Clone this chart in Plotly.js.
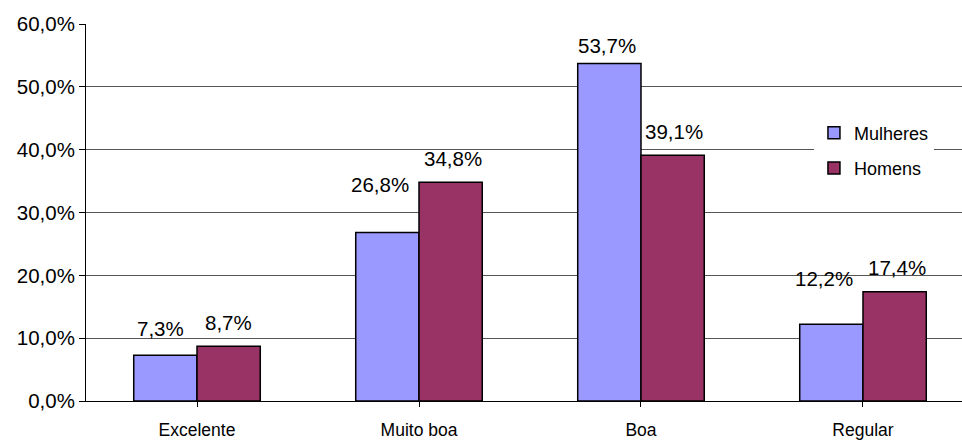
<!DOCTYPE html>
<html>
<head>
<meta charset="utf-8">
<script src="https://cdn.plot.ly/plotly-3.0.1.min.js"></script>
<style>
  html, body { margin: 0; padding: 0; background: #fff; }
  #chart { width: 962px; height: 441px; }
</style>
</head>
<body>
<div id="chart"></div>
<script>
// Self-rated quality, share of respondents by sex (%)
const categories = ['Excelente', 'Muito boa', 'Boa', 'Regular'];
const mulheres = [7.3, 26.8, 53.7, 12.2];
const homens = [8.7, 34.8, 39.1, 17.4];
const seriesNames = ['Mulheres', 'Homens'];
const yTicks = [0, 10, 20, 30, 40, 50, 60];

// Label nudges (px) so value labels sit clear of each other
const labelLift = [[27, 24], [48, 24], [18, 24], [46, 24]];
const labelNudge = [[-5, 0], [-7, 2], [-2, 1], [-7, 2]];

const FONT = 'Liberation Sans, Arial, sans-serif';
const bargap = 0.43;
const barW = (1 - bargap) / 2;

const fmt = v => v.toFixed(1).replace('.', ',') + '%';

const traces = [
  {
    type: 'bar', name: seriesNames[0], legendgroup: 'm',
    x: categories.map((_, i) => i), y: mulheres,
    marker: { color: '#9999FF', line: { color: '#000', width: 1.5 } },
    hoverinfo: 'skip'
  },
  {
    type: 'bar', name: seriesNames[1], legendgroup: 'h',
    x: categories.map((_, i) => i), y: homens,
    marker: { color: '#993366', line: { color: '#000', width: 1.5 } },
    hoverinfo: 'skip'
  }
];

const annotations = [];
[mulheres, homens].forEach((vals, s) => {
  vals.forEach((v, i) => {
    annotations.push({
      x: i + (s === 0 ? -barW / 2 : barW / 2), y: v,
      xref: 'x', yref: 'y',
      text: fmt(v), showarrow: false,
      xanchor: 'center', yanchor: 'middle',
      yshift: labelLift[i][s], xshift: labelNudge[i][s],
      font: { family: FONT, size: 20.5, color: '#000' }
    });
  });
});

const layout = {
  width: 962, height: 441,
  margin: { l: 86, r: 0, t: 24, b: 40 },
  paper_bgcolor: '#fff', plot_bgcolor: '#fff',
  separators: ',.',
  barmode: 'group', bargap: bargap, bargroupgap: 0,
  showlegend: true,
  legend: {
    x: 0.831, y: 0.76, xanchor: 'left', yanchor: 'top',
    bgcolor: '#fff', borderwidth: 0,
    font: { family: FONT, size: 18, color: '#000' },
    tracegroupgap: 9, itemwidth: 30
  },
  xaxis: {
    range: [-0.5, 3.446],
    tickmode: 'array', tickvals: categories.map((_, i) => i), ticktext: categories,
    tickson: 'boundaries', ticks: 'outside', ticklen: 5, tickcolor: '#000',
    ticklabelstandoff: 8,
    showgrid: false, zeroline: false,
    showline: true, linecolor: '#000', linewidth: 1,
    tickfont: { family: FONT, size: 17.5, color: '#000' },
    fixedrange: true
  },
  yaxis: {
    range: [0, 60],
    tickmode: 'array', tickvals: yTicks,
    ticktext: yTicks.map(v => v.toFixed(1).replace('.', ',') + '%'),
    ticks: 'outside', ticklen: 6, tickcolor: '#000',
    showgrid: true, gridcolor: '#555', gridwidth: 1,
    zeroline: false, showline: true, linecolor: '#000', linewidth: 1,
    tickfont: { family: FONT, size: 20.5, color: '#000' },
    fixedrange: true
  },
  annotations: annotations,
  font: { family: FONT, color: '#000' }
};

Plotly.newPlot('chart', traces, layout, { displayModeBar: false, staticPlot: true });
</script>
</body>
</html>
